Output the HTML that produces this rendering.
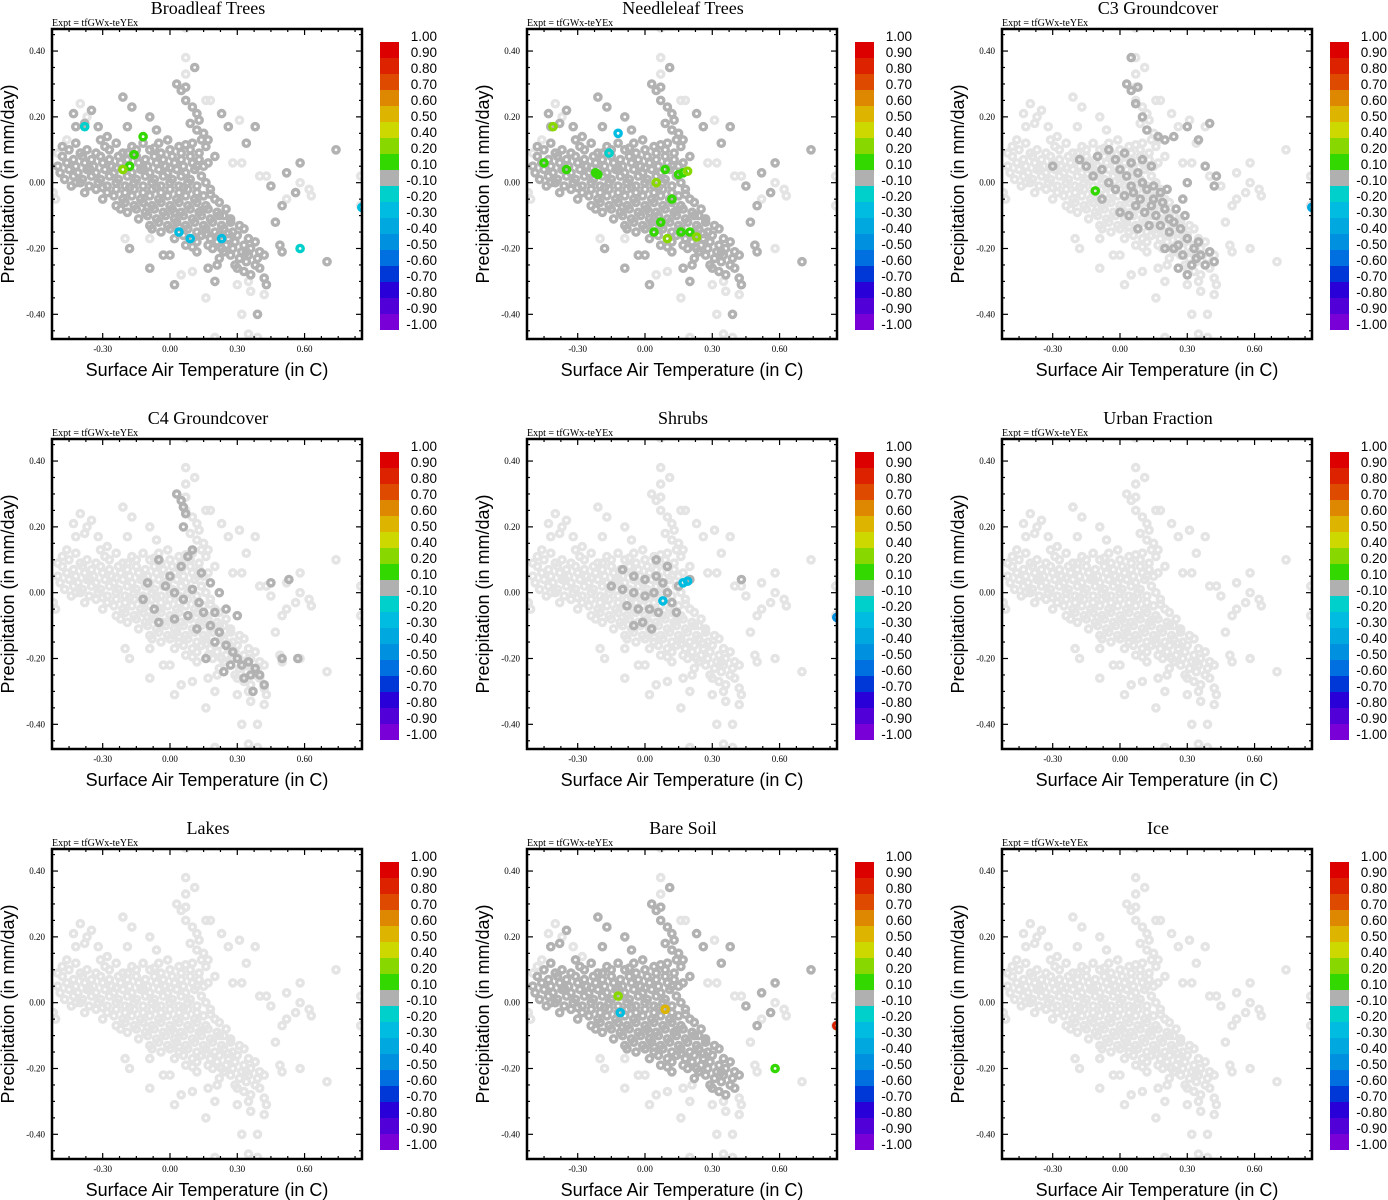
<!DOCTYPE html>
<html><head><meta charset="utf-8"><style>
html,body{margin:0;padding:0;background:#fff;}
svg{display:block;}
</style></head><body>
<svg id="chart" width="1388" height="1200" viewBox="0 0 1388 1200" xmlns="http://www.w3.org/2000/svg"></svg>
<script>
// ---------- data ----------
const panelTitles = ["Broadleaf Trees","Needleleaf Trees","C3 Groundcover","C4 Groundcover","Shrubs","Urban Fraction","Lakes","Bare Soil","Ice"];
const xTicks = [-0.30,0.00,0.30,0.60];
const xTickLabels = ["-0.30","0.00","0.30","0.60"];
const yTicks = [0.40,0.20,0.00,-0.20,-0.40];
const yTickLabels = ["0.40","0.20","0.00","-0.20","-0.40"];
const cbarLabels = ["1.00","0.90","0.80","0.70","0.60","0.50","0.40","0.20","0.10","-0.10","-0.20","-0.30","-0.40","-0.50","-0.60","-0.70","-0.80","-0.90","-1.00"];
const cbarColors = ["#dd0000","#dd2200","#dd4a00","#dd8800","#ddb400","#ccd800","#88d800","#33d800","#b0b0b0","#00d0cc","#00bce0","#00a8e0","#0090e0","#0070e0","#0038d8","#2a00d8","#5200d8","#7a00d8"];

const coreCloud = [
[-0.42,0.12],[-0.31,0.13],[-0.24,0.12],[-0.17,0.11],[-0.12,0.12],[-0.05,0.12],[-0.01,0.13],[0.04,0.11],[0.10,0.12],[0.14,0.13],
[-0.45,0.10],[-0.37,0.10],[-0.33,0.09],[-0.27,0.10],[-0.21,0.09],[-0.15,0.10],[-0.09,0.10],[-0.04,0.09],[0.00,0.10],[0.05,0.09],[0.09,0.10],[0.13,0.09],[0.20,0.08],
[-0.48,0.08],[-0.43,0.07],[-0.39,0.08],[-0.35,0.07],[-0.31,0.08],[-0.27,0.07],[-0.23,0.08],[-0.19,0.07],[-0.15,0.08],[-0.11,0.07],[-0.07,0.08],[-0.03,0.07],[0.01,0.08],[0.05,0.07],[0.09,0.08],[0.13,0.07],[0.17,0.06],
[-0.50,0.05],[-0.46,0.06],[-0.42,0.05],[-0.38,0.06],[-0.34,0.05],[-0.30,0.06],[-0.26,0.05],[-0.22,0.06],[-0.18,0.05],[-0.14,0.06],[-0.10,0.05],[-0.06,0.06],[-0.02,0.05],[0.02,0.06],[0.06,0.05],[0.10,0.06],[0.15,0.05],
[-0.49,0.03],[-0.45,0.04],[-0.41,0.03],[-0.37,0.04],[-0.33,0.03],[-0.29,0.04],[-0.25,0.03],[-0.21,0.04],[-0.17,0.03],[-0.13,0.04],[-0.09,0.03],[-0.05,0.04],[-0.01,0.03],[0.03,0.04],[0.07,0.03],[0.11,0.04],
[-0.47,0.01],[-0.43,0.02],[-0.39,0.01],[-0.35,0.02],[-0.31,0.01],[-0.27,0.02],[-0.23,0.01],[-0.19,0.02],[-0.15,0.01],[-0.11,0.02],[-0.07,0.01],[-0.03,0.02],[0.01,0.01],[0.05,0.02],[0.09,0.01],[0.14,0.02],
[-0.44,-0.01],[-0.40,0.00],[-0.36,-0.01],[-0.32,0.00],[-0.28,-0.01],[-0.24,0.00],[-0.20,-0.01],[-0.16,0.00],[-0.12,-0.01],[-0.08,0.00],[-0.04,-0.01],[0.00,0.00],[0.04,-0.01],[0.08,0.00],[0.12,-0.01],[0.16,0.00],
[-0.38,-0.03],[-0.33,-0.02],[-0.28,-0.03],[-0.24,-0.02],[-0.20,-0.03],[-0.16,-0.02],[-0.12,-0.03],[-0.08,-0.02],[-0.04,-0.03],[0.00,-0.02],[0.04,-0.03],[0.08,-0.02],[0.12,-0.03],[0.18,-0.02],
[-0.30,-0.05],[-0.25,-0.04],[-0.21,-0.05],[-0.17,-0.04],[-0.13,-0.05],[-0.09,-0.04],[-0.05,-0.05],[-0.01,-0.04],[0.03,-0.05],[0.07,-0.04],[0.11,-0.05],[0.15,-0.04],[0.20,-0.05],
[-0.24,-0.07],[-0.20,-0.06],[-0.16,-0.07],[-0.12,-0.06],[-0.08,-0.07],[-0.04,-0.06],[0.00,-0.07],[0.04,-0.06],[0.08,-0.07],[0.12,-0.06],[0.16,-0.07],[0.22,-0.06],
[-0.19,-0.09],[-0.15,-0.08],[-0.11,-0.09],[-0.07,-0.08],[-0.03,-0.09],[0.01,-0.08],[0.05,-0.09],[0.09,-0.08],[0.13,-0.09],[0.17,-0.08],[0.21,-0.09],[0.25,-0.08],
[-0.14,-0.11],[-0.10,-0.10],[-0.06,-0.11],[-0.02,-0.10],[0.02,-0.11],[0.06,-0.10],[0.10,-0.11],[0.14,-0.10],[0.18,-0.11],[0.22,-0.10],[0.27,-0.11],
[-0.09,-0.13],[-0.05,-0.12],[-0.01,-0.13],[0.03,-0.12],[0.07,-0.13],[0.11,-0.12],[0.15,-0.13],[0.19,-0.12],[0.23,-0.13],[0.27,-0.12],[0.31,-0.13],
[-0.04,-0.15],[0.00,-0.14],[0.04,-0.15],[0.08,-0.14],[0.12,-0.15],[0.16,-0.14],[0.20,-0.15],[0.24,-0.14],[0.28,-0.15],[0.33,-0.14],
[0.02,-0.17],[0.06,-0.16],[0.10,-0.17],[0.14,-0.16],[0.18,-0.17],[0.22,-0.16],[0.26,-0.17],[0.30,-0.16],[0.35,-0.17],
[0.07,-0.19],[0.12,-0.18],[0.17,-0.19],[0.21,-0.18],[0.25,-0.19],[0.29,-0.18],[0.33,-0.19],[0.38,-0.18],
[0.12,-0.21],[0.19,-0.20],[0.24,-0.21],[0.28,-0.20],[0.32,-0.21],[0.36,-0.20],[0.40,-0.21],
[0.22,-0.23],[0.27,-0.22],[0.31,-0.23],[0.35,-0.22],[0.39,-0.23],[0.42,-0.22],
[0.29,-0.25],[0.34,-0.24],[0.38,-0.25],[0.33,-0.27],[0.40,-0.26],
[-0.40,0.09],[-0.29,0.11],[-0.19,0.09],[-0.07,0.105],[0.07,0.115],[0.16,0.11],[-0.36,0.045],[-0.24,0.045],[-0.12,0.045],[0.00,0.045],[0.12,0.05],
[-0.42,0.00],[-0.30,-0.015],[-0.18,-0.015],[-0.06,-0.015],[0.06,-0.015],[0.18,-0.035],[-0.22,-0.08],[-0.10,-0.075],[0.02,-0.09],[0.14,-0.085],[0.24,-0.10],
[-0.08,-0.14],[0.04,-0.135],[0.16,-0.155],[0.26,-0.155],[0.10,-0.195],[0.23,-0.20],[0.34,-0.21],[0.30,-0.26],[0.36,-0.28]
];
const spikeCloud = [
[0.03,0.30],[0.05,0.28],[0.07,0.25],[0.10,0.23],[0.12,0.21],[0.09,0.18],[0.12,0.16],[0.15,0.15],[0.17,0.13],[0.11,0.35],[0.07,0.29],[0.13,0.19],
[-0.21,0.26],[-0.17,0.23],[-0.35,0.22],[-0.38,0.18],[-0.42,0.17],[-0.19,0.17],[-0.09,0.20],[-0.06,0.16],[0.23,0.21],[0.26,0.17],[0.38,0.17],[0.34,0.12],
[0.58,0.06],[0.74,0.10],[0.52,0.03],[0.45,-0.01],[0.56,-0.03],[0.50,-0.07],[0.47,-0.12],[0.49,-0.19],[0.50,-0.21],[0.70,-0.24],[0.42,-0.29],[0.43,-0.31],[0.39,-0.40],
[0.00,-0.22],[-0.03,-0.22],[-0.09,-0.26],[0.02,-0.31],[0.17,-0.26],[0.21,-0.25],[0.20,-0.30],[-0.18,-0.20],[-0.48,0.11],[-0.43,0.21],[-0.32,0.17],[-0.28,0.14]
];
const lightExtra = [
[0.07,0.38],[0.07,0.33],[0.18,0.25],[0.16,0.25],[-0.40,0.24],[-0.37,0.20],[0.31,0.19],[0.32,0.06],[0.28,0.06],[0.52,-0.05],[0.58,0.00],[0.62,-0.02],[0.63,-0.04],
[0.40,0.02],[0.43,0.02],[0.58,-0.20],[0.10,-0.27],[0.05,-0.28],[0.35,-0.30],[0.42,-0.34],[0.30,-0.31],[0.36,-0.33],[0.32,-0.40],[0.35,-0.46],[0.39,-0.47],
[0.20,-0.47],[0.16,-0.35],[-0.52,-0.03],[-0.51,-0.05],[-0.46,0.13],[-0.50,0.09],[-0.09,-0.17],[-0.20,-0.17],[0.07,0.47],[0.85,0.02],[0.85,-0.07]
];
const darkC3 = [
[-0.30,0.05],[-0.18,0.07],[-0.10,0.08],[-0.12,0.02],[-0.08,0.04],[-0.05,0.10],[-0.02,0.07],[0.00,0.04],[0.03,0.02],[0.05,0.06],[0.08,0.03],[0.10,0.00],[-0.05,0.00],[-0.02,-0.02],[0.02,-0.04],[0.06,-0.03],[0.12,-0.02],[0.15,-0.05],[0.18,-0.03],[0.07,-0.07],[0.11,-0.09],[0.16,-0.10],[0.20,-0.08],[0.24,-0.12],[0.22,-0.15],[0.27,-0.14],[0.30,-0.17],[0.26,-0.19],[0.33,-0.20],[0.35,-0.18],[0.36,-0.22],[0.40,-0.21],[0.38,-0.25],[0.42,-0.24],[0.32,-0.25],[0.03,0.30],[0.05,0.28],[0.08,0.29],[0.07,0.24],[0.10,0.20],[0.12,0.16],[0.17,0.14],[0.20,0.13],[0.24,0.14],[0.30,0.17],[0.35,0.13],[0.40,0.18],[0.43,0.02],[0.42,-0.01],[0.30,0.00],[0.13,-0.13],[0.18,-0.13],[0.08,-0.14],[0.00,-0.09],[-0.08,-0.05],[0.28,-0.05],[0.25,-0.08],[0.21,-0.02],[0.14,0.05],[0.24,-0.20],[0.26,-0.26],[0.30,-0.28],[0.20,-0.20],[0.38,0.05],[0.05,0.38],
[0.02,0.09],[0.10,0.07],[-0.15,0.05],[0.05,-0.01],[0.15,-0.01],[0.09,-0.05],[0.19,-0.06],[0.04,-0.10],[0.14,-0.07],[0.29,-0.10],[0.28,-0.22],[0.34,-0.23],[0.22,-0.11]
];
const darkC4 = [
[0.03,0.30],[0.05,0.28],[0.06,0.26],[0.07,0.24],[0.06,0.20],[0.10,0.13],[0.08,0.11],[0.05,0.08],[-0.05,0.10],[0.00,0.05],[-0.02,0.02],[-0.10,0.03],[-0.12,-0.02],[-0.07,-0.05],[0.02,0.00],[0.06,-0.02],[0.10,0.01],[0.13,-0.03],[0.15,-0.06],[0.08,-0.07],[0.02,-0.08],[-0.05,-0.09],[0.12,-0.11],[0.18,-0.10],[0.22,-0.12],[0.20,-0.15],[0.25,-0.16],[0.28,-0.18],[0.30,-0.20],[0.32,-0.22],[0.35,-0.21],[0.38,-0.23],[0.36,-0.25],[0.40,-0.25],[0.37,-0.30],[0.42,-0.28],[0.33,-0.26],[0.27,-0.22],[0.24,-0.24],[0.16,-0.20],[0.14,0.06],[0.18,0.03],[0.22,0.00],[0.25,-0.05],[0.20,-0.06],[0.30,-0.07],[0.45,0.03],[0.53,0.04],[0.57,-0.20],[0.50,-0.20]
];
const darkShrub = [
[-0.10,0.07],[-0.05,0.05],[0.00,0.04],[0.05,0.05],[0.08,0.03],[-0.15,0.02],[-0.10,0.01],[-0.05,0.00],[0.00,-0.01],[0.04,0.00],[0.10,0.00],[0.12,-0.03],[-0.08,-0.04],[-0.03,-0.05],[0.02,-0.05],[0.06,-0.06],[-0.05,-0.10],[-0.01,-0.09],[0.03,-0.11],[0.15,0.02],[0.20,0.04],[0.10,0.08],[0.14,-0.06],[0.43,0.04],[0.05,0.10]
];
// coloured points: [x, y, colour-bin index]
const colBroadleaf = [[-0.38,0.17,9],[-0.12,0.14,7],[-0.16,0.085,7],[-0.18,0.05,7],[-0.21,0.04,6],[0.09,-0.17,10],[0.23,-0.17,10],[0.04,-0.15,10],[0.58,-0.20,9],[0.855,-0.075,10]];
const colNeedleleaf = [[-0.41,0.17,6],[-0.45,0.06,7],[-0.35,0.04,7],[-0.22,0.03,7],[-0.21,0.025,7],[0.05,0.00,6],[0.09,0.04,7],[0.12,-0.05,7],[0.07,-0.12,7],[0.04,-0.15,7],[0.15,0.025,7],[0.17,0.03,7],[0.19,0.035,6],[0.16,-0.15,7],[0.20,-0.15,7],[0.23,-0.165,6],[0.10,-0.17,6],[-0.12,0.15,10],[-0.16,0.09,9]];
const colC3 = [[-0.11,-0.025,7],[0.855,-0.075,11]];
const colC4 = [];
const colShrub = [[0.19,0.035,10],[0.17,0.03,10],[0.08,-0.025,10],[0.855,-0.075,12]];
const colBare = [[-0.12,0.02,6],[0.09,-0.02,4],[-0.11,-0.03,10],[0.58,-0.20,7],[0.855,-0.07,1]];

const panelDark = [[coreCloud,spikeCloud],[coreCloud,spikeCloud],[darkC3],[darkC4],[darkShrub],[],[],[coreCloud,spikeCloud.slice(0,30)],[]];
const panelColored = [colBroadleaf,colNeedleleaf,colC3,colC4,colShrub,[],[],colBare,[]];

// ---------- drawing ----------
const NS = "http://www.w3.org/2000/svg";
const svg = document.getElementById("chart");
const X0 = -0.526, X1 = 0.856, Y0 = -0.475, Y1 = 0.467;
const PL = 52, PR = 362, PT = 29, PB = 339;
function mk(tag, attrs, parent){ const e = document.createElementNS(NS, tag); for (const k in attrs) e.setAttribute(k, attrs[k]); (parent||svg).appendChild(e); return e; }
function xs(v){ return PL + (v - X0) / (X1 - X0) * (PR - PL); }
function ys(v){ return PB - (v - Y0) / (Y1 - Y0) * (PB - PT); }
const defs = mk("defs", {});
const cp = mk("clipPath", {id:"plotclip"}, defs);
mk("rect", {x:PL, y:PT, width:PR-PL, height:PB-PT}, cp);

function dot(g, x, y, color, name){
  const c = mk("circle", {cx:xs(x).toFixed(1), cy:ys(y).toFixed(1), r:3.1, fill:"none", stroke:color, "stroke-width":3.4}, g);
  
  
}

for (let p = 0; p < 9; p++){
  const dx = (p % 3) * 475, dy = Math.floor(p / 3) * 410;
  const g = mk("g", {transform:`translate(${dx},${dy})`});
  
  

  const t = mk("text", {x:208, y:14, "text-anchor":"middle", "font-family":"Liberation Serif, serif", "font-size":18}, g);
  t.textContent = panelTitles[p];
  
  

  const ex = mk("text", {x:52, y:26, "font-family":"Liberation Serif, serif", "font-size":10}, g);
  ex.textContent = "Expt = tfGWx-teYEx";
  
  

  const pg = mk("g", {"clip-path":"url(#plotclip)"}, g);
  
  
  for (const arr of [coreCloud, spikeCloud, lightExtra]) for (const d of arr) dot(pg, d[0], d[1], "#e4e4e4", "point-light");
  for (const arr of panelDark[p]) for (const d of arr) dot(pg, d[0], d[1], "#b2b2b2", "point-gray");
  for (const d of panelColored[p]) dot(pg, d[0], d[1], cbarColors[d[2]], "point-colored");

  const fr = mk("rect", {x:PL, y:PT, width:PR-PL, height:PB-PT, fill:"none", stroke:"#000", "stroke-width":2.5}, g);
  
  

  const tg = mk("g", {stroke:"#000", "stroke-width":1.2}, g);
  
  
  for (let v = -0.525; v <= 0.856; v += 0.075){
    const major = xTicks.some(m => Math.abs(m - v) < 1e-6);
    const L = major ? 6 : 3, x = xs(v);
    mk("line", {x1:x, y1:PB, x2:x, y2:PB-L}, tg);
    mk("line", {x1:x, y1:PT, x2:x, y2:PT+L}, tg);
  }
  for (let v = -0.45; v <= 0.467; v += 0.05){
    const major = yTicks.some(m => Math.abs(m - v) < 1e-6);
    const L = major ? 6 : 3, y = ys(v);
    mk("line", {x1:PL, y1:y, x2:PL+L, y2:y}, tg);
    mk("line", {x1:PR, y1:y, x2:PR-L, y2:y}, tg);
  }
  xTicks.forEach((v,i) => {
    const tl = mk("text", {x:xs(v), y:PB+13, "text-anchor":"middle", "font-family":"Liberation Serif, serif", "font-size":9}, g);
    tl.textContent = xTickLabels[i];
    
    
  });
  yTicks.forEach((v,i) => {
    const tl = mk("text", {x:PL-7, y:ys(v)+3, "text-anchor":"end", "font-family":"Liberation Serif, serif", "font-size":9}, g);
    tl.textContent = yTickLabels[i];
    
    
  });

  const xt = mk("text", {x:207, y:376, "text-anchor":"middle", "font-family":"Liberation Sans, sans-serif", "font-size":18}, g);
  xt.textContent = "Surface Air Temperature (in C)";
  
  
  const yt = mk("text", {x:0, y:0, transform:"translate(14,184) rotate(-90)", "text-anchor":"middle", "font-family":"Liberation Sans, sans-serif", "font-size":18}, g);
  yt.textContent = "Precipitation (in mm/day)";
  
  

  const cb = mk("g", {}, g);
  
  
  const segH = 16, cbTop = 42;
  cbarColors.forEach((c,i) => {
    const r = mk("rect", {x:380, y:cbTop + i*segH, width:19, height:segH, fill:c}, cb);
    
    
  });
  cbarLabels.forEach((s,i) => {
    const tl = mk("text", {x:437, y:cbTop + i*segH - 1, "text-anchor":"end", "font-family":"Liberation Sans, sans-serif", "font-size":13.5}, cb);
    tl.textContent = s;
    
    
  });
}
</script>
</body></html>
